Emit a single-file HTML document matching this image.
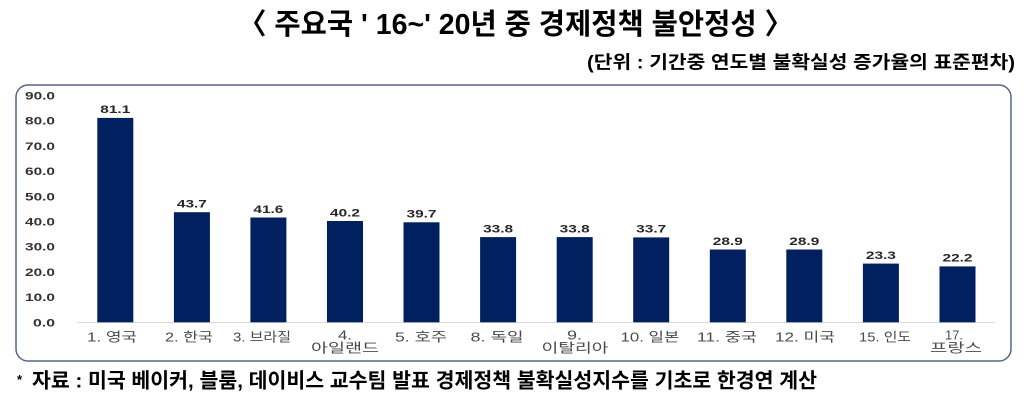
<!DOCTYPE html>
<html>
<head>
<meta charset="utf-8">
<style>
  html, body { margin: 0; padding: 0; background: #ffffff; }
  svg { display: block; }
  .title { font-family: "Liberation Sans", "Noto Sans CJK KR", sans-serif; font-weight: 700; fill: #000; }
  .sub { font-family: "Liberation Sans", "Noto Sans CJK KR", sans-serif; font-weight: 700; fill: #000; }
  .yl { font-family: "Liberation Sans", sans-serif; font-weight: 700; font-size: 11px; fill: #333; }
  .dl { font-family: "Liberation Sans", sans-serif; font-weight: 700; font-size: 11px; fill: #262626; }
  .xl { font-family: "Liberation Sans", "Noto Sans CJK KR", sans-serif; font-weight: 400; font-size: 13px; fill: #4a4a4a; }
  .foot { font-family: "Liberation Sans", "Noto Sans CJK KR", sans-serif; font-weight: 700; fill: #000; }
</style>
</head>
<body>
<svg width="1032" height="400" viewBox="0 0 1032 400" xmlns="http://www.w3.org/2000/svg">
  <rect x="0" y="0" width="1032" height="400" fill="#fff"/>

  <!-- Title -->
  <text class="title" x="238" y="34" font-size="29" textLength="555" lengthAdjust="spacingAndGlyphs">〈 주요국 ' 16~' 20년 중 경제정책 불안정성 〉</text>

  <!-- Subtitle -->
  <text class="sub" x="587" y="68.3" font-size="18" textLength="428" lengthAdjust="spacingAndGlyphs">(단위 : 기간중 연도별 불확실성 증가율의 표준편차)</text>

  <!-- Chart box -->
  <rect x="16" y="85" width="995" height="276" rx="12" ry="12" fill="#fff" stroke="#56678a" stroke-width="1.5"/>

  <!-- Y labels -->
  <g class="yl" text-anchor="end">
    <text x="55" y="326.3" textLength="22" lengthAdjust="spacingAndGlyphs">0.0</text>
    <text x="55" y="301.1" textLength="30" lengthAdjust="spacingAndGlyphs">10.0</text>
    <text x="55" y="275.9" textLength="30" lengthAdjust="spacingAndGlyphs">20.0</text>
    <text x="55" y="250.7" textLength="30" lengthAdjust="spacingAndGlyphs">30.0</text>
    <text x="55" y="225.5" textLength="30" lengthAdjust="spacingAndGlyphs">40.0</text>
    <text x="55" y="200.3" textLength="30" lengthAdjust="spacingAndGlyphs">50.0</text>
    <text x="55" y="175.1" textLength="30" lengthAdjust="spacingAndGlyphs">60.0</text>
    <text x="55" y="149.9" textLength="30" lengthAdjust="spacingAndGlyphs">70.0</text>
    <text x="55" y="124.7" textLength="30" lengthAdjust="spacingAndGlyphs">80.0</text>
    <text x="55" y="99.5" textLength="30" lengthAdjust="spacingAndGlyphs">90.0</text>
  </g>

  <!-- Baseline -->
  <line x1="77" y1="322.5" x2="995" y2="322.5" stroke="#d9d9d9" stroke-width="1"/>

  <!-- Bars -->
  <g fill="#002060">
    <rect x="97.3" y="117.9" width="36" height="204.4"/>
    <rect x="173.9" y="212.2" width="36" height="110.1"/>
    <rect x="250.4" y="217.5" width="36" height="104.8"/>
    <rect x="327.0" y="221.0" width="36" height="101.3"/>
    <rect x="403.5" y="222.3" width="36" height="100.0"/>
    <rect x="480.1" y="237.1" width="36" height="85.2"/>
    <rect x="556.7" y="237.1" width="36" height="85.2"/>
    <rect x="633.2" y="237.4" width="36" height="84.9"/>
    <rect x="709.8" y="249.5" width="36" height="72.8"/>
    <rect x="786.3" y="249.5" width="36" height="72.8"/>
    <rect x="862.9" y="263.6" width="36" height="58.7"/>
    <rect x="939.5" y="266.4" width="36" height="55.9"/>
  </g>

  <!-- Data labels -->
  <g class="dl" text-anchor="middle">
    <text x="115.3" y="113.2" textLength="30" lengthAdjust="spacingAndGlyphs">81.1</text>
    <text x="191.9" y="207.5" textLength="30" lengthAdjust="spacingAndGlyphs">43.7</text>
    <text x="268.4" y="212.8" textLength="30" lengthAdjust="spacingAndGlyphs">41.6</text>
    <text x="345.0" y="216.3" textLength="30" lengthAdjust="spacingAndGlyphs">40.2</text>
    <text x="421.5" y="217.6" textLength="30" lengthAdjust="spacingAndGlyphs">39.7</text>
    <text x="498.1" y="232.4" textLength="30" lengthAdjust="spacingAndGlyphs">33.8</text>
    <text x="574.7" y="232.4" textLength="30" lengthAdjust="spacingAndGlyphs">33.8</text>
    <text x="651.2" y="232.7" textLength="30" lengthAdjust="spacingAndGlyphs">33.7</text>
    <text x="727.8" y="244.8" textLength="30" lengthAdjust="spacingAndGlyphs">28.9</text>
    <text x="804.3" y="244.8" textLength="30" lengthAdjust="spacingAndGlyphs">28.9</text>
    <text x="880.9" y="258.9" textLength="30" lengthAdjust="spacingAndGlyphs">23.3</text>
    <text x="957.5" y="261.7" textLength="30" lengthAdjust="spacingAndGlyphs">22.2</text>
  </g>

  <!-- X labels -->
  <g class="xl" text-anchor="middle">
    <text x="112" y="341.5" textLength="50" lengthAdjust="spacingAndGlyphs">1. 영국</text>
    <text x="189" y="341.5" textLength="48" lengthAdjust="spacingAndGlyphs">2. 한국</text>
    <text x="262" y="341.5" textLength="58" lengthAdjust="spacingAndGlyphs">3. 브라질</text>
    <text x="345" y="339.5" textLength="14" lengthAdjust="spacingAndGlyphs">4.</text>
    <text x="345" y="352.5" textLength="68" lengthAdjust="spacingAndGlyphs">아일랜드</text>
    <text x="421" y="341.5" textLength="52" lengthAdjust="spacingAndGlyphs">5. 호주</text>
    <text x="497" y="341.5" textLength="53" lengthAdjust="spacingAndGlyphs">8. 독일</text>
    <text x="574.5" y="339.5" textLength="15" lengthAdjust="spacingAndGlyphs">9.</text>
    <text x="575" y="352.5" textLength="67" lengthAdjust="spacingAndGlyphs">이탈리아</text>
    <text x="650" y="341.5" textLength="59" lengthAdjust="spacingAndGlyphs">10. 일본</text>
    <text x="727" y="341.5" textLength="60" lengthAdjust="spacingAndGlyphs">11. 중국</text>
    <text x="805" y="341.5" textLength="60" lengthAdjust="spacingAndGlyphs">12. 미국</text>
    <text x="885" y="341.5" textLength="52" lengthAdjust="spacingAndGlyphs">15. 인도</text>
    <text x="954" y="339.5" textLength="18" lengthAdjust="spacingAndGlyphs" font-size="13">17.</text>
    <text x="956" y="352.5" textLength="52" lengthAdjust="spacingAndGlyphs">프랑스</text>
  </g>

  <!-- Footnote -->
  <text class="foot" x="17" y="384" font-size="13">*</text>
  <text class="foot" x="32" y="387.5" font-size="20.5" textLength="785" lengthAdjust="spacingAndGlyphs">자료 : 미국 베이커, 블룸, 데이비스 교수팀 발표 경제정책 불확실성지수를 기초로 한경연 계산</text>
</svg>
</body>
</html>
